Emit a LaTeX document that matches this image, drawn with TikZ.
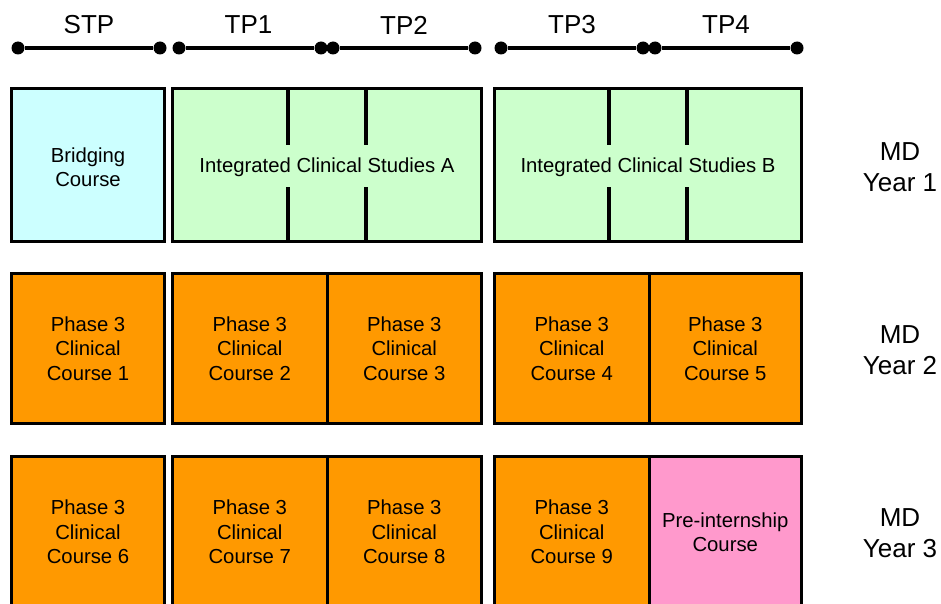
\documentclass[tikz,border=0pt]{standalone}
\usepackage{fontspec}
\setmainfont{Liberation Sans}
\definecolor{bridge}{HTML}{CCFFFF}
\definecolor{ics}{HTML}{CCFFCC}
\definecolor{phase}{HTML}{FF9900}
\definecolor{prein}{HTML}{FF99CC}
\begin{document}
\begin{tikzpicture}[x=1pt,y=-1pt,
  box/.style={draw=black, line width=3pt, inner sep=0pt, outer sep=0pt, align=center,
    font=\fontsize{20.3}{24.5}\selectfont},
  dot/.style={circle, fill=black, inner sep=0pt, minimum size=13pt},
  tline/.style={line width=4pt},
  divline/.style={line width=4pt},
  toplabel/.style={font=\fontsize{26}{31}\selectfont, inner sep=0pt},
  yearlabel/.style={font=\fontsize{26}{31}\selectfont, inner sep=0pt, align=center}]
\useasboundingbox[fill=white] (0,0) rectangle (941,604);

% timeline
\node[dot] (s0) at (18,48) {};
\node[dot] (s1) at (160,48) {};
\node[dot] (t1a) at (179,48) {};
\node[dot] (t1b) at (321,48) {};
\node[dot] (t2a) at (333,48) {};
\node[dot] (t2b) at (475,48) {};
\node[dot] (t3a) at (501,48) {};
\node[dot] (t3b) at (643,48) {};
\node[dot] (t4a) at (655,48) {};
\node[dot] (t4b) at (797,48) {};
\draw[tline] (s0) -- (s1);
\draw[tline] (t1a) -- (t1b);
\draw[tline] (t2a) -- (t2b);
\draw[tline] (t3a) -- (t3b);
\draw[tline] (t4a) -- (t4b);
\node[toplabel] (lstp) at (89,25) {STP};
\node[toplabel] (ltp1) at (248.5,25) {TP1};
\node[toplabel] (ltp2) at (404,25) {TP2};
\node[toplabel] (ltp3) at (572,25) {TP3};
\node[toplabel] (ltp4) at (726,25) {TP4};

% row 1
\node[box, fill=bridge, minimum width=153pt, minimum height=153pt] (bridge) at (88,165) {};
\node[font=\fontsize{20.3}{24.5}\selectfont, inner sep=0pt, align=center] (bridget) at (88,167) {Bridging\\Course};
\node[box, fill=ics, minimum width=309pt, minimum height=153pt] (icsA) at (327,165) {};
\node[box, fill=ics, minimum width=307pt, minimum height=153pt] (icsB) at (648,165) {};
\draw[divline] (288,88.5) -- (288,145);
\draw[divline] (288,187) -- (288,241.5);
\draw[divline] (366,88.5) -- (366,145);
\draw[divline] (366,187) -- (366,241.5);
\draw[divline] (609,88.5) -- (609,145);
\draw[divline] (609,187) -- (609,241.5);
\draw[divline] (687,88.5) -- (687,145);
\draw[divline] (687,187) -- (687,241.5);
\node[font=\fontsize{20.3}{24.5}\selectfont, inner sep=0pt] (icsAt) at (327,167) {Integrated Clinical Studies A};
\node[font=\fontsize{20.3}{24.5}\selectfont, inner sep=0pt] (icsBt) at (648,167) {Integrated Clinical Studies B};

% row 2
\node[box, fill=phase, minimum width=153pt, minimum height=150pt] (c1) at (88,348.5) {Phase 3\\Clinical\\Course 1};
\node[box, fill=phase, minimum width=154.5pt, minimum height=150pt] (c2) at (249.75,348.5) {Phase 3\\Clinical\\Course 2};
\node[box, fill=phase, minimum width=154.5pt, minimum height=150pt] (c3) at (404.25,348.5) {Phase 3\\Clinical\\Course 3};
\node[box, fill=phase, minimum width=154.5pt, minimum height=150pt] (c4) at (571.75,348.5) {Phase 3\\Clinical\\Course 4};
\node[box, fill=phase, minimum width=152.5pt, minimum height=150pt] (c5) at (725.25,348.5) {Phase 3\\Clinical\\Course 5};

% row 3
\node[box, fill=phase, minimum width=153pt, minimum height=151pt] (c6) at (88,532) {Phase 3\\Clinical\\Course 6};
\node[box, fill=phase, minimum width=154.5pt, minimum height=151pt] (c7) at (249.75,532) {Phase 3\\Clinical\\Course 7};
\node[box, fill=phase, minimum width=154.5pt, minimum height=151pt] (c8) at (404.25,532) {Phase 3\\Clinical\\Course 8};
\node[box, fill=phase, minimum width=154.5pt, minimum height=151pt] (c9) at (571.75,532) {Phase 3\\Clinical\\Course 9};
\node[box, fill=prein, minimum width=152.5pt, minimum height=151pt] (pre) at (725.25,532) {Pre-internship\\Course};

% year labels
\node[yearlabel] (y1) at (900,167) {MD\\Year 1};
\node[yearlabel] (y2) at (900,350) {MD\\Year 2};
\node[yearlabel] (y3) at (900,533) {MD\\Year 3};
\end{tikzpicture}
\end{document}
